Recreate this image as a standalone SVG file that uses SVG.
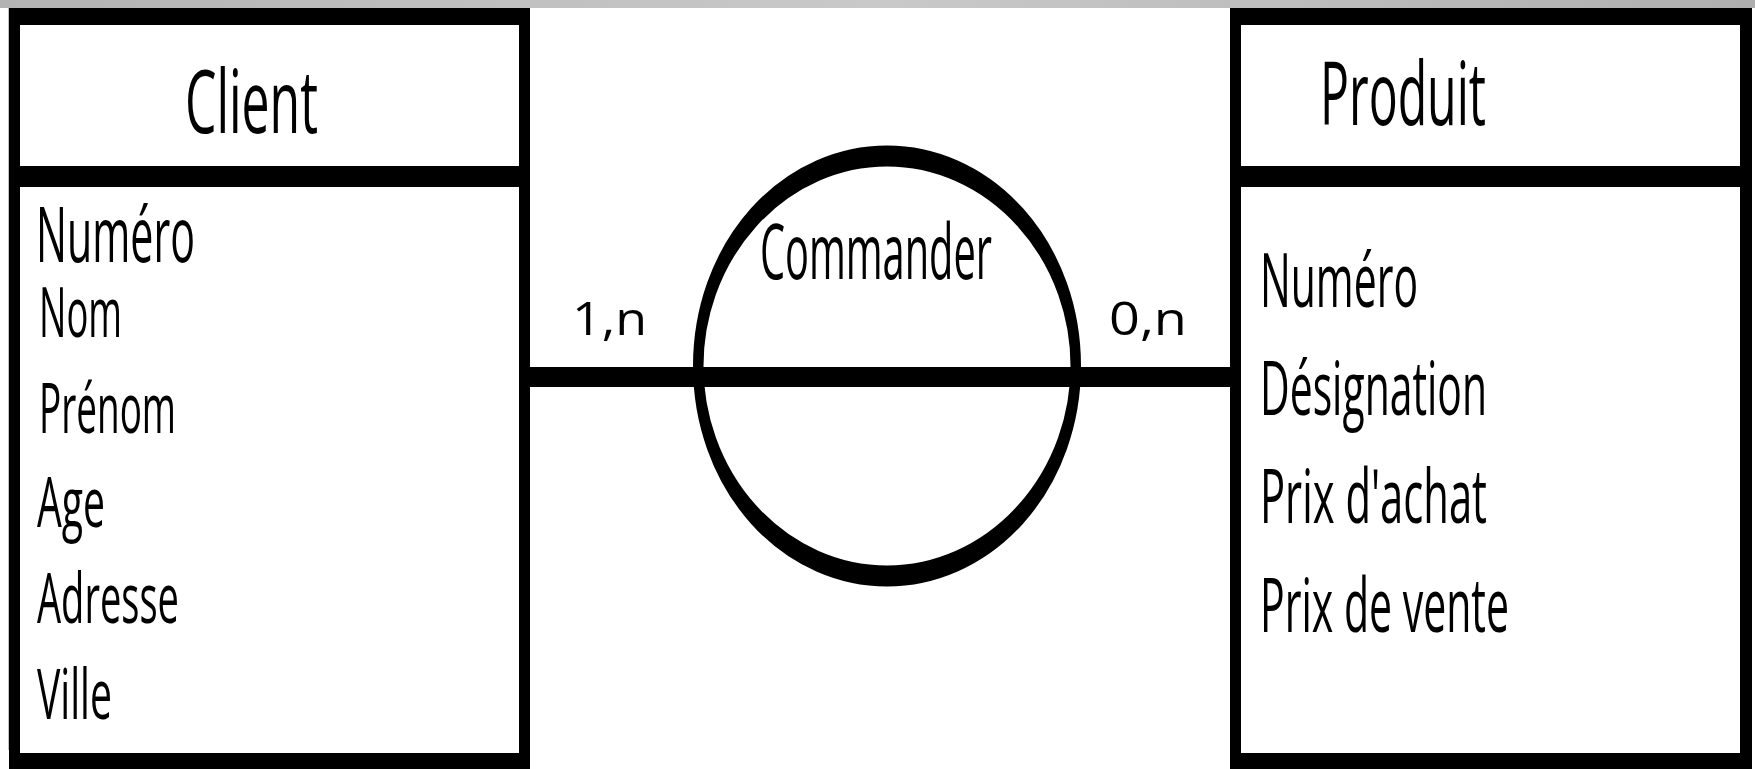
<svg xmlns="http://www.w3.org/2000/svg" width="1755" height="769" viewBox="0 0 1755 769">
  <style>
    .frame { fill: #000; }
    .inner { fill: #fff; }
    .t { font-family: "Open Sans", "Liberation Sans", sans-serif; fill: #000; }
    .card { font-family: "Open Sans", "Liberation Sans", sans-serif; fill: #000; font-size: 46px; }
    .link { stroke: #000; stroke-width: 20; fill: none; }
  </style>
  <defs>
    <linearGradient id="topbar" x1="0" y1="0" x2="1" y2="0">
      <stop offset="0" stop-color="#b3b3b3"/>
      <stop offset="0.5" stop-color="#c9c9c9"/>
      <stop offset="1" stop-color="#afafaf"/>
    </linearGradient>
  </defs>
  <rect x="0" y="0" width="1755" height="769" fill="#fff"/>
  <rect x="0" y="0" width="1755" height="8" fill="url(#topbar)"/>
  <rect x="8" y="8" width="1" height="742" fill="#c0c0c0"/>

  <g id="connectors">
    <line class="link" x1="518" y1="377" x2="1241" y2="377"/>
    <text class="card" x="572" y="335" textLength="75" lengthAdjust="spacingAndGlyphs">1,n</text>
    <text class="card" x="1109" y="335" textLength="78" lengthAdjust="spacingAndGlyphs">0,n</text>
  </g>

  <g id="client">
    <rect class="frame" x="9" y="8" width="521" height="761"/>
    <rect class="inner" x="20" y="25" width="499" height="141"/>
    <rect class="inner" x="20" y="187" width="499" height="566"/>
    <text class="t" x="185" y="133" font-size="88" textLength="133" lengthAdjust="spacingAndGlyphs">Client</text>
    <text class="t" x="36" y="262" font-size="76" textLength="159" lengthAdjust="spacingAndGlyphs">Numéro</text>
    <text class="t" x="39" y="337" font-size="70" textLength="83" lengthAdjust="spacingAndGlyphs">Nom</text>
    <text class="t" x="39" y="433" font-size="70" textLength="137" lengthAdjust="spacingAndGlyphs">Prénom</text>
    <text class="t" x="37" y="527" font-size="70" textLength="68" lengthAdjust="spacingAndGlyphs">Age</text>
    <text class="t" x="37" y="623" font-size="70" textLength="142" lengthAdjust="spacingAndGlyphs">Adresse</text>
    <text class="t" x="37" y="719" font-size="70" textLength="75" lengthAdjust="spacingAndGlyphs">Ville</text>
  </g>

  <g id="commander">
    <g transform="translate(887,366) scale(1,2)">
      <ellipse cx="0" cy="0" rx="188.75" ry="105" fill="none" stroke="#000" stroke-width="10.5"/>
    </g>
    <text class="t" x="760" y="279" font-size="76" textLength="232" lengthAdjust="spacingAndGlyphs">Commander</text>
  </g>

  <g id="produit">
    <rect class="frame" x="1230" y="8" width="522" height="761"/>
    <rect class="inner" x="1241" y="25" width="499" height="141"/>
    <rect class="inner" x="1241" y="187" width="499" height="566"/>
    <text class="t" x="1320" y="125" font-size="88" textLength="166" lengthAdjust="spacingAndGlyphs">Produit</text>
    <text class="t" x="1260" y="307" font-size="75" textLength="158" lengthAdjust="spacingAndGlyphs">Numéro</text>
    <text class="t" x="1260" y="415" font-size="75" textLength="227" lengthAdjust="spacingAndGlyphs">Désignation</text>
    <text class="t" x="1260" y="523" font-size="75" textLength="227" lengthAdjust="spacingAndGlyphs">Prix d'achat</text>
    <text class="t" x="1260" y="632" font-size="75" textLength="249" lengthAdjust="spacingAndGlyphs">Prix de vente</text>
  </g>
</svg>
